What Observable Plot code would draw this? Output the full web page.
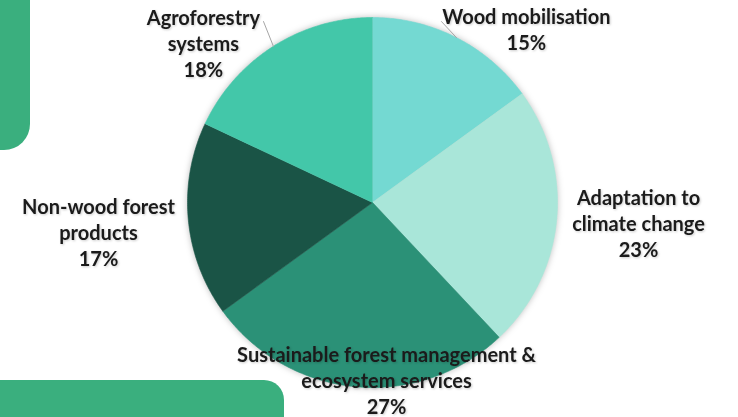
<!DOCTYPE html>
<html><head><meta charset="utf-8">
<script src="https://cdn.jsdelivr.net/npm/d3@7"></script>
<script src="https://cdn.jsdelivr.net/npm/@observablehq/plot@0.6"></script>
<style>
body{margin:0;background:#fff;overflow:hidden}
#wrap{position:relative;width:738px;height:417px;overflow:hidden;background:#fff}
.deco{position:absolute;background:#3AAF7E}
#d1{left:-40px;top:-40px;width:70px;height:190px;border-bottom-right-radius:26px}
#d2{left:-40px;top:380px;width:324px;height:80px;border-top-right-radius:20px}
#chart{position:absolute;left:0;top:0}
</style></head><body>
<div id="wrap"><div class="deco" id="d1"></div><div class="deco" id="d2"></div><div id="chart"></div></div>
<script>
// ---- data ----
const categories = ["Wood mobilisation", "Adaptation to climate change", "Sustainable forest management & ecosystem services", "Non-wood forest products", "Agroforestry systems"];
const labelText = ["Wood mobilisation", "Adaptation to\nclimate change", "Sustainable forest management &\necosystem services", "Non-wood forest\nproducts", "Agroforestry\nsystems"];
const shares = [15, 23, 27, 17, 18];
const colors = ["#74D9D2", "#A9E6D9", "#2B9177", "#1A5446", "#43C7A9"];

// ---- layout (unit-radius coordinates, not data) ----
const labelAt = [[0.832, 0.941], [1.438, -0.108], [0.076, -0.957], [-1.481, -0.157], [-0.914, 0.865]];
const leaderEnd = {0: [0.373, 0.978], 4: [-0.589, 0.978]};

const W = 738, H = 417, cx = 372, cy = 202, R = 185;
const total = d3.sum(shares);
const pie = d3.pie().sort(null).value(d => d)(shares);

// polygon points for each slice
const pts = [];
pie.forEach((p, i) => {
  pts.push({cat: categories[i], x: 0, y: 0});
  const n = Math.max(8, Math.ceil((p.endAngle - p.startAngle) / 0.01));
  for (let k = 0; k <= n; k++) {
    const a = p.startAngle + (p.endAngle - p.startAngle) * k / n;
    pts.push({cat: categories[i], x: Math.sin(a), y: Math.cos(a)});
  }
});

const labels = categories.map((c, i) => ({
  cat: c,
  x: labelAt[i][0], y: labelAt[i][1],
  text: labelText[i] + "\n" + Math.round(shares[i] / total * 100) + "%"
}));

const leaders = [];
Object.entries(leaderEnd).forEach(([i, e]) => {
  const p = pie[+i], a = (p.startAngle + p.endAngle) / 2;
  leaders.push({k: i, x: Math.sin(a), y: Math.cos(a)});
  leaders.push({k: i, x: e[0], y: e[1]});
});

const chart = Plot.plot({
  width: W, height: H,
  margin: 0,
  x: {domain: [-cx / R, (W - cx) / R], axis: null},
  y: {domain: [-(H - cy) / R, cy / R], axis: null},
  color: {domain: categories, range: colors},
  marks: [
    Plot.line(pts, {x: "x", y: "y", z: "cat", fill: "cat", stroke: "cat", strokeWidth: 0.6, curve: "linear"}),
    Plot.line(leaders, {x: "x", y: "y", z: "k", stroke: "#a6a6a6", strokeWidth: 1}),
    Plot.text(labels, {x: "x", y: "y", text: "text", fill: "#1b1b1b", fontSize: 20, fontWeight: "bold", fontFamily: "Lato", lineHeight: 1.3, lineAnchor: "middle", textAnchor: "middle"})
  ]
});
chart.style.background = "transparent";
d3.select(chart).selectAll("g[aria-label=line]").filter((d, i) => i === 0).style("filter", "drop-shadow(0 0 3px rgba(0,0,0,0.25))");
d3.select(chart).selectAll("g[aria-label=text]").style("filter", "drop-shadow(1px 1px 1px rgba(0,0,0,0.2))");
document.getElementById("chart").appendChild(chart);
</script>
</body></html>
